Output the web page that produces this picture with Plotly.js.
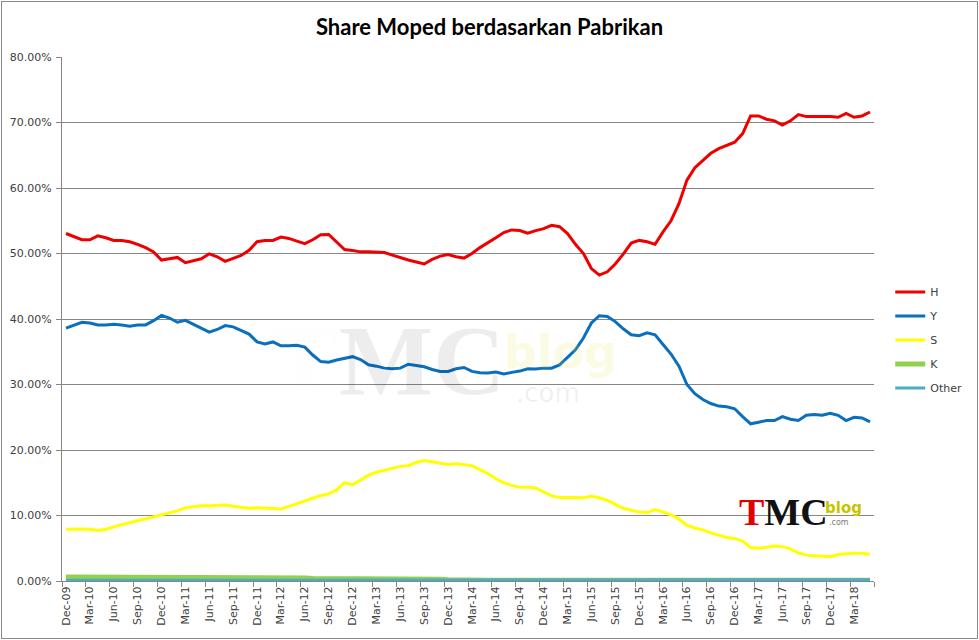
<!DOCTYPE html>
<html>
<head>
<meta charset="utf-8">
<script src="https://cdn.plot.ly/plotly-3.0.1.min.js"></script>
<style>
  html, body { margin: 0; padding: 0; background: #ffffff; }
  #chart { position: absolute; left: 0; top: 0; width: 979px; height: 640px; }
  #frame { position: absolute; left: 1px; top: 1px; width: 975px; height: 636px; border: 1px solid #8a8a8a; pointer-events: none; }
</style>
</head>
<body>
<div id="chart"></div>
<div id="frame"></div>
<script>
const months = [
  "Dec-09",
  "Jan-10","Feb-10","Mar-10","Apr-10","May-10","Jun-10","Jul-10","Aug-10","Sep-10","Oct-10","Nov-10","Dec-10",
  "Jan-11","Feb-11","Mar-11","Apr-11","May-11","Jun-11","Jul-11","Aug-11","Sep-11","Oct-11","Nov-11","Dec-11",
  "Jan-12","Feb-12","Mar-12","Apr-12","May-12","Jun-12","Jul-12","Aug-12","Sep-12","Oct-12","Nov-12","Dec-12",
  "Jan-13","Feb-13","Mar-13","Apr-13","May-13","Jun-13","Jul-13","Aug-13","Sep-13","Oct-13","Nov-13","Dec-13",
  "Jan-14","Feb-14","Mar-14","Apr-14","May-14","Jun-14","Jul-14","Aug-14","Sep-14","Oct-14","Nov-14","Dec-14",
  "Jan-15","Feb-15","Mar-15","Apr-15","May-15","Jun-15","Jul-15","Aug-15","Sep-15","Oct-15","Nov-15","Dec-15",
  "Jan-16","Feb-16","Mar-16","Apr-16","May-16","Jun-16","Jul-16","Aug-16","Sep-16","Oct-16","Nov-16","Dec-16",
  "Jan-17","Feb-17","Mar-17","Apr-17","May-17","Jun-17","Jul-17","Aug-17","Sep-17","Oct-17","Nov-17","Dec-17",
  "Jan-18","Feb-18","Mar-18","Apr-18","May-18"
];

const shareH = [
  53.05,52.6,52.1,52.1,52.7,52.4,52.0,52.0,51.8,51.4,50.9,50.25,49.0,
  49.2,49.4,48.6,48.9,49.2,49.95,49.5,48.8,49.2,49.7,50.5,51.8,
  52.0,52.0,52.5,52.3,51.9,51.5,52.1,52.85,52.9,51.8,50.6,50.45,
  50.25,50.25,50.25,50.15,49.75,49.35,49.0,48.7,48.4,49.1,49.6,49.85,
  49.5,49.3,50.0,50.9,51.6,52.4,53.2,53.6,53.5,53.1,53.5,53.8,
  54.3,54.1,53.05,51.4,50.0,47.7,46.7,47.2,48.4,49.9,51.6,52.0,
  51.8,51.4,53.3,55.0,57.6,61.2,63.1,64.25,65.3,66.0,66.5,67.0,
  68.3,71.0,71.0,70.5,70.25,69.6,70.25,71.2,70.9,70.9,71.0,70.9,
  70.8,71.4,70.8,71.0,71.6
];

const shareY = [
  38.6,39.1,39.5,39.4,39.1,39.1,39.2,39.1,38.9,39.1,39.1,39.75,40.55,
  40.15,39.5,39.8,39.2,38.6,38.0,38.4,39.0,38.8,38.3,37.7,36.5,
  36.2,36.5,35.9,35.9,36.0,35.7,34.5,33.5,33.4,33.75,34.0,34.25,
  33.8,33.0,32.8,32.5,32.4,32.5,33.1,32.9,32.7,32.3,32.0,32.0,
  32.4,32.6,32.0,31.8,31.75,31.9,31.6,31.85,32.05,32.4,32.35,32.5,
  32.5,33.0,34.1,35.3,37.1,39.4,40.5,40.4,39.6,38.5,37.6,37.45,
  37.9,37.6,36.1,34.65,32.8,30.0,28.6,27.7,27.1,26.7,26.6,26.3,
  25.1,24.0,24.25,24.5,24.5,25.1,24.7,24.5,25.3,25.4,25.3,25.6,
  25.3,24.5,25.0,24.9,24.3
];

const shareS = [
  7.9,7.95,7.95,7.9,7.7,7.9,8.3,8.6,8.9,9.2,9.5,9.75,10.15,
  10.4,10.7,11.2,11.4,11.5,11.5,11.6,11.6,11.4,11.2,11.1,11.2,
  11.1,11.0,11.0,11.4,11.8,12.2,12.7,13.05,13.3,13.9,15.0,14.7,
  15.4,16.15,16.6,16.9,17.3,17.5,17.6,18.1,18.4,18.2,18.0,17.8,
  17.9,17.8,17.6,17.0,16.4,15.6,15.0,14.6,14.3,14.3,14.2,13.6,
  13.0,12.75,12.8,12.75,12.7,12.95,12.7,12.3,11.7,11.1,10.8,10.55,
  10.45,10.9,10.55,10.1,9.45,8.5,8.1,7.8,7.35,6.95,6.65,6.5,
  6.1,5.1,5.0,5.15,5.35,5.25,4.9,4.3,3.95,3.85,3.75,3.7,
  4.05,4.2,4.25,4.25,4.1
];

const shareK = [
  0.6,0.6,0.6,0.6,0.6,0.6,0.6,0.6,0.6,0.6,0.6,0.6,0.5,
  0.5,0.45,0.45,0.45,0.45,0.45,0.45,0.45,0.45,0.45,0.45,0.45,
  0.45,0.45,0.45,0.45,0.45,0.45,0.4,0.4,0.4,0.4,0.4,0.4,
  0.4,0.4,0.4,0.4,0.4,0.4,0.4,0.4,0.4,0.3,0.25,0.2,
  0.15,0.1,0.1,0.1,0.1,0.1,0.1,0.1,0.1,0.1,0.1,0.1,
  0.1,0.1,0.1,0.1,0.1,0.1,0.1,0.1,0.1,0.1,0.1,0.1,
  0.1,0.1,0.1,0.1,0.1,0.1,0.1,0.1,0.1,0.1,0.1,0.1,
  0.1,0.1,0.1,0.1,0.1,0.1,0.1,0.1,0.1,0.1,0.1,0.1,
  0.1,0.1,0.1,0.1,0.1
];

const shareOther = [
  0.1,0.1,0.1,0.1,0.1,0.1,0.1,0.1,0.1,0.1,0.1,0.1,0.15,
  0.2,0.2,0.2,0.2,0.2,0.2,0.2,0.2,0.2,0.2,0.2,0.2,
  0.2,0.2,0.2,0.2,0.2,0.2,0.2,0.2,0.2,0.2,0.2,0.2,
  0.2,0.2,0.2,0.2,0.2,0.2,0.2,0.2,0.2,0.2,0.2,0.2,
  0.2,0.2,0.2,0.2,0.2,0.2,0.2,0.2,0.2,0.2,0.2,0.2,
  0.2,0.2,0.2,0.2,0.2,0.2,0.2,0.2,0.2,0.2,0.2,0.2,
  0.2,0.2,0.2,0.2,0.2,0.2,0.2,0.2,0.2,0.2,0.2,0.2,
  0.2,0.2,0.2,0.2,0.2,0.2,0.2,0.2,0.2,0.2,0.2,0.2,
  0.2,0.2,0.2,0.2,0.2
];

const seriesNames = ["H", "Y", "S", "K", "Other"];
const seriesValues = [shareH, shareY, shareS, shareK, shareOther];
const seriesColors = ["#ee0000", "#0a6fbd", "#ffff00", "#92d050", "#4bacc6"];
const seriesWidths = [3, 3, 3, 5, 3];

const traces = seriesNames.map((name, k) => ({
  type: "scatter",
  mode: "lines",
  name: name,
  legendgroup: name,
  x: months,
  y: seriesValues[k],
  line: { color: seriesColors[k], width: seriesWidths[k] },
  hoverinfo: "skip"
}));

const tickFont = { family: "DejaVu Sans, Verdana, sans-serif", size: 11, color: "#404040" };
const plotL = 62, plotR = 882, plotT = 57, plotB = 581;
const pw = plotR - plotL, ph = plotB - plotT;
const px = v => (v - plotL) / pw;
const py = v => (plotB - v) / ph;

const layout = {
  width: 979,
  height: 640,
  margin: { l: plotL, r: 979 - plotR, t: plotT, b: 640 - plotB, pad: 0 },
  paper_bgcolor: "rgba(0,0,0,0)",
  plot_bgcolor: "rgba(0,0,0,0)",
  showlegend: true,
  title: {
    text: "<b>Share Moped berdasarkan Pabrikan</b>",
    font: { family: "Lato, 'Open Sans', sans-serif", size: 22, color: "#000000" },
    x: 0.5, xanchor: "center",
    y: 1 - 27 / 640, yanchor: "middle", yref: "container"
  },
  xaxis: {
    type: "category",
    range: [-0.5, months.length - 0.5],
    tickmode: "linear", tick0: 0, dtick: 3,
    tickson: "boundaries",
    ticks: "outside", ticklen: 5, tickcolor: "#868686",
    tickangle: -90,
    tickfont: tickFont,
    showgrid: false,
    showline: true, linecolor: "#868686", linewidth: 1,
    zeroline: false,
    automargin: false,
    fixedrange: true
  },
  yaxis: {
    range: [0, 80],
    tickmode: "linear", tick0: 0, dtick: 10,
    tickformat: ".2f", ticksuffix: "%",
    ticks: "outside", ticklen: 5, tickcolor: "#868686",
    ticklabelstandoff: 2,
    tickfont: tickFont,
    showgrid: true, gridcolor: "#868686", gridwidth: 1,
    showline: true, linecolor: "#868686", linewidth: 1,
    zeroline: false,
    automargin: false,
    fixedrange: true
  },
  legend: {
    x: 1.02, xanchor: "left",
    y: py(340), yanchor: "middle",
    traceorder: "grouped",
    tracegroupgap: 5,
    font: tickFont,
    bgcolor: "rgba(0,0,0,0)",
    borderwidth: 0
  },
  annotations: [
    { xref: "paper", yref: "paper", x: px(392), y: py(360), xanchor: "center", yanchor: "middle", showarrow: false,
      text: "<b><span style='color:rgba(240,60,60,0.16)'>T</span>MC</b>",
      font: { family: "Liberation Serif, serif", size: 100, color: "rgba(0,0,0,0.07)" } },
    { xref: "paper", yref: "paper", x: px(565), y: py(352), xanchor: "center", yanchor: "middle", showarrow: false,
      text: "<b>blog</b>",
      font: { family: "DejaVu Sans, sans-serif", size: 46, color: "rgba(230,230,80,0.16)" } },
    { xref: "paper", yref: "paper", x: px(553), y: py(393), xanchor: "center", yanchor: "middle", showarrow: false,
      text: ".com",
      font: { family: "DejaVu Sans, sans-serif", size: 26, color: "rgba(0,0,0,0.07)" } },
    { xref: "paper", yref: "paper", x: px(791), y: py(512), xanchor: "center", yanchor: "middle", showarrow: false,
      text: "<b><span style='color:#e00000'>T</span>MC</b>",
      font: { family: "Liberation Serif, serif", size: 38, color: "#111111" } },
    { xref: "paper", yref: "paper", x: px(851), y: py(508), xanchor: "center", yanchor: "middle", showarrow: false,
      text: "<b>blog</b>",
      font: { family: "DejaVu Sans, sans-serif", size: 15, color: "#c9c400" } },
    { xref: "paper", yref: "paper", x: px(847), y: py(522), xanchor: "center", yanchor: "middle", showarrow: false,
      text: ".com",
      font: { family: "DejaVu Sans, sans-serif", size: 8, color: "#777777" } }
  ]
};

Plotly.newPlot("chart", traces, layout, { displayModeBar: false, staticPlot: true });
</script>
</body>
</html>
